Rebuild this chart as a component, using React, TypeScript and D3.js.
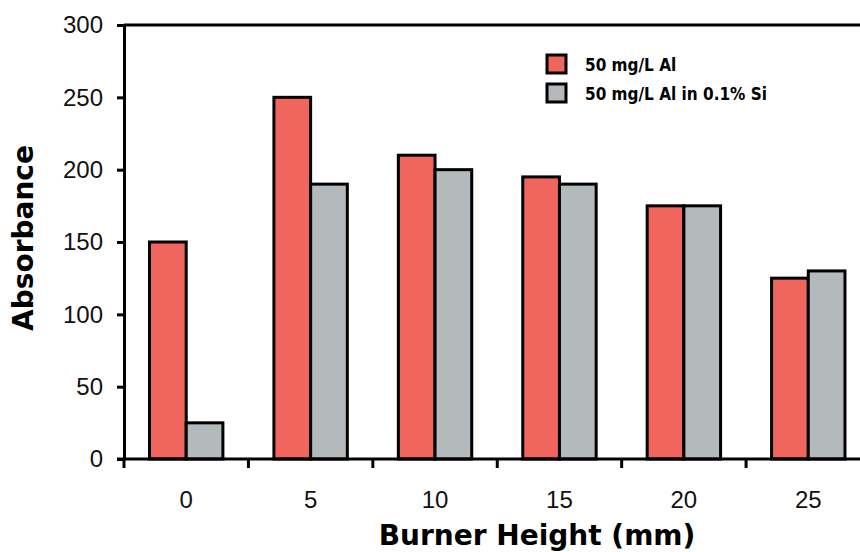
import React, { useRef, useEffect } from 'react';
import * as d3 from 'd3';

const categories = ['0', '5', '10', '15', '20', '25'];
const seriesNames = ['50 mg/L Al', '50 mg/L Al in 0.1% Si'];
const alOnly = [150, 250, 210, 195, 175, 125];
const alInSi = [25, 190, 200, 190, 175, 130];
const yTicks = [0, 50, 100, 150, 200, 250, 300];
const colors = ['#f0655e', '#b4b9bb'];

const App: React.FC = () => {
  const svgRef = useRef<SVGSVGElement>(null);

  useEffect(() => {
    if (!svgRef.current) return;
    document.body.style.margin = '0';

    const width = 860;
    const height = 552;
    const left = 124;
    const top = 25;
    const bottom = 459;

    const svg = d3.select(svgRef.current)
      .attr('width', width)
      .attr('height', height)
      .style('background', '#fff')
      .style('display', 'block');

    svg.selectAll('*').remove();

    const x = d3.scaleBand<string>().domain(categories).range([left, 870.5]).padding(0);
    const groupWidth = 73.4;
    const xSub = d3.scaleBand<string>().domain(seriesNames).range([0, groupWidth]).padding(0);
    const offset = (x.bandwidth() - groupWidth) / 2;
    const y = d3.scaleLinear().domain([0, 300]).range([bottom, top]);

    const series = [alOnly, alInSi];

    // bars
    const bars = svg.append('g');
    series.forEach((vals, si) => {
      bars.append('g')
        .selectAll('rect')
        .data(vals)
        .join('rect')
        .attr('x', (_, i) => (x(categories[i]) ?? 0) + offset + (xSub(seriesNames[si]) ?? 0))
        .attr('y', d => y(d))
        .attr('width', xSub.bandwidth())
        .attr('height', d => y(0) - y(d))
        .attr('fill', colors[si])
        .attr('stroke', '#000')
        .attr('stroke-width', 3);
    });

    // y axis
    const yAxis = svg.append('g')
      .attr('transform', `translate(${left},0)`)
      .call(d3.axisLeft(y).tickValues(yTicks).tickSize(7).tickPadding(14).tickSizeOuter(0));
    yAxis.select('.domain').attr('stroke-width', 3);
    yAxis.selectAll('.tick line').attr('stroke-width', 3);
    yAxis.selectAll('.tick text')
      .style('font-family', 'Arial, "Liberation Sans", sans-serif')
      .style('font-size', '24px')
      .attr('fill', '#111');

    // top border
    svg.append('line')
      .attr('x1', left).attr('x2', width)
      .attr('y1', y(300)).attr('y2', y(300))
      .attr('stroke', '#000').attr('stroke-width', 3);

    // x axis
    const xg = svg.append('g');
    xg.append('line')
      .attr('x1', left - 7).attr('x2', width)
      .attr('y1', y(0)).attr('y2', y(0))
      .attr('stroke', '#000').attr('stroke-width', 3);
    xg.selectAll('line.tick')
      .data(categories)
      .join('line')
      .attr('class', 'tick')
      .attr('x1', d => x(d) ?? 0).attr('x2', d => x(d) ?? 0)
      .attr('y1', y(0)).attr('y2', y(0) + 9)
      .attr('stroke', '#000').attr('stroke-width', 3);
    xg.selectAll('text')
      .data(categories)
      .join('text')
      .attr('x', d => (x(d) ?? 0) + x.bandwidth() / 2)
      .attr('y', 508)
      .attr('text-anchor', 'middle')
      .style('font-family', 'Arial, "Liberation Sans", sans-serif')
      .style('font-size', '24px')
      .attr('fill', '#111')
      .text(d => d);

    // axis titles
    svg.append('text')
      .attr('x', 537)
      .attr('y', 545)
      .attr('text-anchor', 'middle')
      .style('font-family', '"DejaVu Sans", sans-serif')
      .style('font-weight', 'bold')
      .style('font-size', '28px')
      .text('Burner Height (mm)');

    svg.append('text')
      .attr('transform', 'translate(33,238) rotate(-90)')
      .attr('text-anchor', 'middle')
      .style('font-family', '"DejaVu Sans", sans-serif')
      .style('font-weight', 'bold')
      .style('font-size', '28px')
      .text('Absorbance');

    // legend
    const legend = svg.append('g').attr('transform', 'translate(547,55)');
    const item = legend.selectAll('g')
      .data(seriesNames)
      .join('g')
      .attr('transform', (_, i) => `translate(0,${i * 29})`);
    item.append('rect')
      .attr('width', 19)
      .attr('height', 18)
      .attr('fill', (_, i) => colors[i])
      .attr('stroke', '#000')
      .attr('stroke-width', 3);
    item.append('text')
      .attr('x', 38)
      .attr('y', 16)
      .style('font-family', '"DejaVu Sans Condensed", "DejaVu Sans", sans-serif')
      .style('font-stretch', 'condensed')
      .style('font-weight', 'bold')
      .style('font-size', '17px')
      .text(d => d);
  }, []);

  return <svg ref={svgRef}></svg>;
};

export default App;
